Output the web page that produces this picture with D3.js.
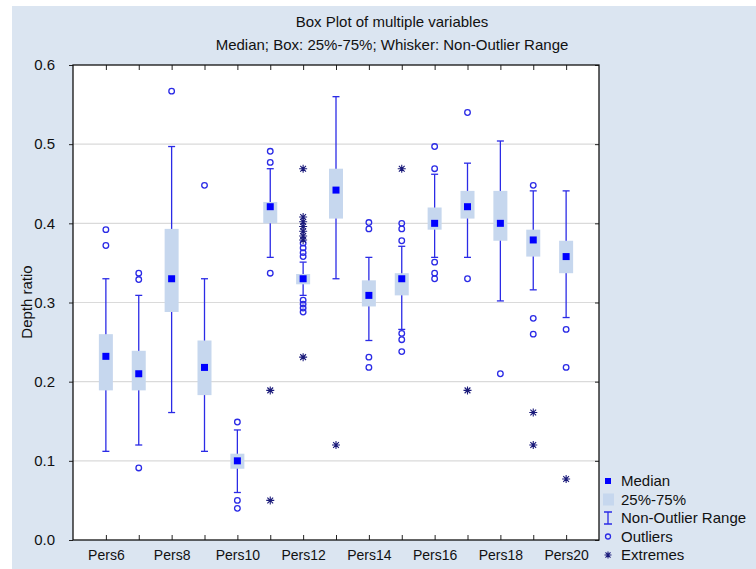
<!DOCTYPE html>
<html>
<head>
<meta charset="utf-8">
<script src="https://cdn.jsdelivr.net/npm/d3@7"></script>
<style>
  body { margin: 0; background: #fff; }
  text { font-family: "Liberation Sans", Arial, sans-serif; fill: #111; }
</style>
</head>
<body>
<svg id="chart" width="756" height="569"></svg>
<script>
const names = ['Pers6','Pers7','Pers8','Pers9','Pers10','Pers11','Pers12','Pers13','Pers14','Pers15','Pers16','Pers17','Pers18','Pers19','Pers20'];
const xLabels = ['Pers6','Pers8','Pers10','Pers12','Pers14','Pers16','Pers18','Pers20'];
const medians = [0.232, 0.210, 0.330, 0.218, 0.100, 0.421, 0.330, 0.442, 0.309, 0.330, 0.400, 0.421, 0.400, 0.379, 0.358];
const q1 = [0.189, 0.189, 0.288, 0.183, 0.090, 0.400, 0.323, 0.406, 0.295, 0.309, 0.392, 0.406, 0.378, 0.358, 0.337];
const q3 = [0.260, 0.239, 0.393, 0.252, 0.109, 0.427, 0.336, 0.469, 0.328, 0.337, 0.420, 0.441, 0.441, 0.392, 0.378];
const whiskerLow = [0.112, 0.120, 0.161, 0.112, 0.060, 0.357, 0.309, 0.330, 0.252, 0.266, 0.357, 0.357, 0.302, 0.316, 0.281];
const whiskerHigh = [0.330, 0.309, 0.497, 0.330, 0.139, 0.469, 0.351, 0.560, 0.357, 0.371, 0.462, 0.476, 0.504, 0.441, 0.441];
const outliers = [
  [0.392, 0.372],
  [0.337, 0.329, 0.091],
  [0.567],
  [0.448],
  [0.149, 0.050, 0.040],
  [0.491, 0.477, 0.337],
  [0.375, 0.369, 0.363, 0.358, 0.303, 0.298, 0.293, 0.288],
  [],
  [0.401, 0.393, 0.231, 0.218],
  [0.400, 0.393, 0.378, 0.261, 0.253, 0.238],
  [0.497, 0.469, 0.351, 0.337, 0.330],
  [0.540, 0.330],
  [0.210],
  [0.448, 0.280, 0.260],
  [0.266, 0.218]
];
const extremes = [
  [], [], [], [], [],
  [0.189, 0.050],
  [0.469, 0.408, 0.402, 0.396, 0.390, 0.384, 0.379, 0.231],
  [0.120],
  [],
  [0.469],
  [],
  [0.189],
  [],
  [0.161, 0.120],
  [0.077]
];
const yTicks = [0.0, 0.1, 0.2, 0.3, 0.4, 0.5, 0.6];
const legendItems = ['Median', '25%-75%', 'Non-Outlier Range', 'Outliers', 'Extremes'];

const svg = d3.select('#chart');
const W = 756, H = 569;
const plot = { left: 73, right: 599, top: 65, bottom: 540 };
const blue = '#2b2be6';
const navy = '#1a1a7a';
const boxFill = '#c6d7ee';

svg.append('rect').attr('x', 12).attr('y', 6).attr('width', W - 12).attr('height', H - 6)
  .attr('fill', '#dbe5f1');
svg.append('rect').attr('x', plot.left).attr('y', plot.top)
  .attr('width', plot.right - plot.left).attr('height', plot.bottom - plot.top)
  .attr('fill', '#fff');

const x = d3.scalePoint().domain(names).range([plot.left, plot.right]).padding(1);
const y = d3.scaleLinear().domain([0, 0.6]).range([plot.bottom, plot.top]);

// gridlines
svg.append('g').selectAll('line').data(yTicks.slice(1, -1)).join('line')
  .attr('x1', plot.left).attr('x2', plot.right)
  .attr('y1', d => y(d)).attr('y2', d => y(d))
  .attr('stroke', '#dadada').attr('stroke-width', 1.2);

// axes
const yAxis = svg.append('g').attr('transform', `translate(${plot.left},0)`)
  .call(d3.axisLeft(y).tickValues(yTicks).tickFormat(d3.format('.1f')).tickSize(4).tickPadding(14));
yAxis.select('.domain').remove();
yAxis.selectAll('text').style('font-size', '15px');

const yRight = svg.append('g').attr('transform', `translate(${plot.right},0)`)
  .call(d3.axisRight(y).tickValues(yTicks).tickSize(-4).tickFormat(''));
yRight.select('.domain').remove();

const xBottom = svg.append('g').attr('transform', `translate(0,${plot.bottom})`)
  .call(d3.axisBottom(x).tickSize(-5).tickPadding(10)
    .tickFormat(d => xLabels.includes(d) ? d : ''));
xBottom.select('.domain').remove();
xBottom.selectAll('text').style('font-size', '14px').attr('dy', '0.71em');

const xTop = svg.append('g').attr('transform', `translate(0,${plot.top})`)
  .call(d3.axisTop(x).tickSize(-5).tickFormat(''));
xTop.select('.domain').remove();

svg.selectAll('.tick line').attr('stroke', '#222');

svg.append('rect').attr('x', plot.left).attr('y', plot.top)
  .attr('width', plot.right - plot.left).attr('height', plot.bottom - plot.top)
  .attr('fill', 'none').attr('stroke', '#111').attr('stroke-width', 1.3);

// boxes
const boxW = 14, capW = 7, medS = 7;
const g = svg.append('g');
names.forEach((n, i) => {
  const cx = x(n);
  g.append('line').attr('x1', cx).attr('x2', cx)
    .attr('y1', y(whiskerLow[i])).attr('y2', y(whiskerHigh[i]))
    .attr('stroke', blue).attr('stroke-width', 1.3);
  [whiskerLow[i], whiskerHigh[i]].forEach(v => {
    g.append('line').attr('x1', cx - capW / 2).attr('x2', cx + capW / 2)
      .attr('y1', y(v)).attr('y2', y(v)).attr('stroke', blue).attr('stroke-width', 1.3);
  });
  g.append('rect').attr('x', cx - boxW / 2).attr('y', y(q3[i]))
    .attr('width', boxW).attr('height', y(q1[i]) - y(q3[i])).attr('fill', boxFill);
  g.append('rect').attr('x', cx - medS / 2).attr('y', y(medians[i]) - medS / 2)
    .attr('width', medS).attr('height', medS).attr('fill', '#0000ff');
  outliers[i].forEach(v => {
    g.append('circle').attr('cx', cx).attr('cy', y(v)).attr('r', 2.8)
      .attr('fill', 'none').attr('stroke', blue).attr('stroke-width', 1.3);
  });
  extremes[i].forEach(v => drawStar(g, cx, y(v), 4));
});

function drawStar(sel, cx, cy, r) {
  const d = r * 0.72;
  const path = `M${cx - r},${cy}H${cx + r}M${cx},${cy - r}V${cy + r}` +
    `M${cx - d},${cy - d}L${cx + d},${cy + d}M${cx - d},${cy + d}L${cx + d},${cy - d}`;
  sel.append('path').attr('d', path).attr('stroke', navy).attr('stroke-width', 1.1).attr('fill', 'none');
}

// titles
svg.append('text').attr('x', 392).attr('y', 27).attr('text-anchor', 'middle')
  .style('font-size', '15px').text('Box Plot of multiple variables');
svg.append('text').attr('x', 392).attr('y', 50).attr('text-anchor', 'middle')
  .style('font-size', '15px').text('Median; Box: 25%-75%; Whisker: Non-Outlier Range');
svg.append('text').attr('transform', 'translate(32,302) rotate(-90)').attr('text-anchor', 'middle')
  .style('font-size', '15px').text('Depth ratio');

// legend
const lg = svg.append('g').attr('transform', 'translate(608,0)');
const ly = d3.scalePoint().domain(legendItems).range([481, 555]);
lg.selectAll('text').data(legendItems).join('text')
  .attr('x', 13).attr('y', d => ly(d)).attr('dy', '0.35em')
  .style('font-size', '15px').text(d => d);
lg.append('rect').attr('x', -3).attr('y', ly('Median') - 3).attr('width', 6).attr('height', 6).attr('fill', '#0000ff');
lg.append('rect').attr('x', -5).attr('y', ly('25%-75%') - 6).attr('width', 11).attr('height', 12).attr('fill', boxFill);
const ny = ly('Non-Outlier Range');
lg.append('path').attr('d', `M-4,${ny - 6}H4M0,${ny - 6}V${ny + 6}M-4,${ny + 6}H4`)
  .attr('stroke', blue).attr('stroke-width', 1.3).attr('fill', 'none');
lg.append('circle').attr('cx', 0).attr('cy', ly('Outliers')).attr('r', 2.5)
  .attr('fill', 'none').attr('stroke', blue).attr('stroke-width', 1.3);
drawStar(lg, 0, ly('Extremes'), 3.5);
</script>
</body>
</html>
